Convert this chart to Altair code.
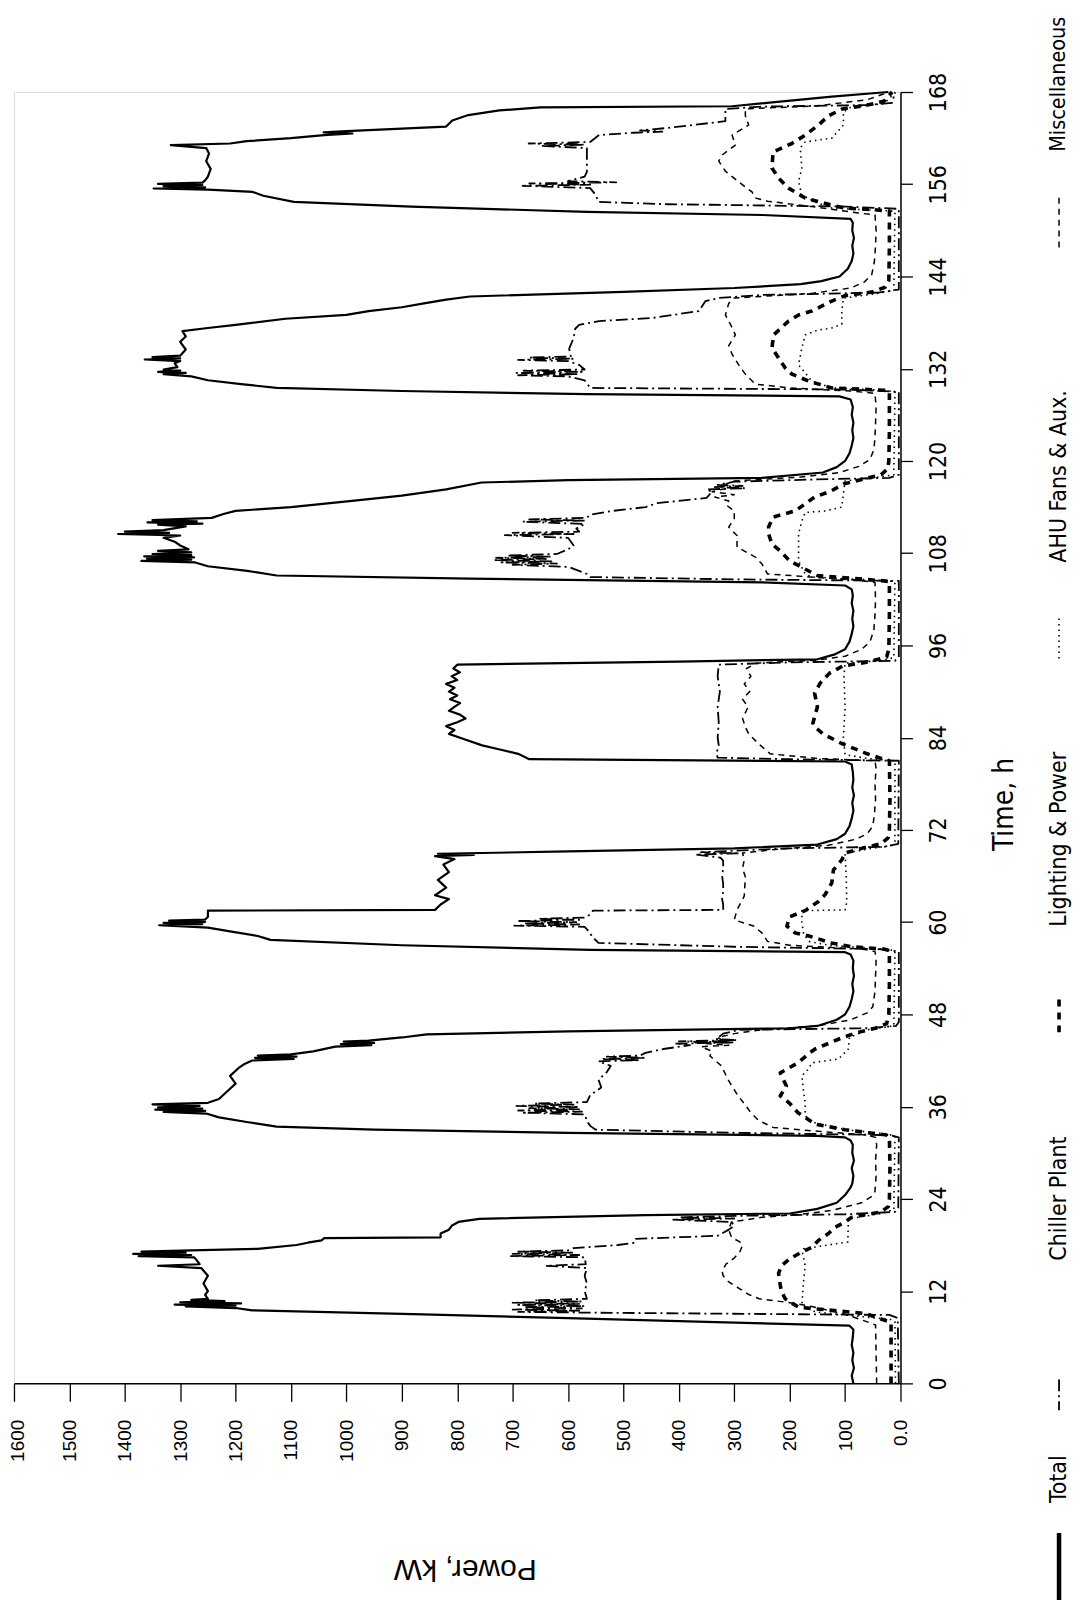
import altair as alt
import pandas as pd

# ---------------- data (time h, power kW) ----------------
TOTAL = [
    (0, 85), (1, 88), (2, 84), (3, 87), (4, 85), (5, 88), (6, 86), (7, 85), (7.5, 92),
    (8.0, 350), (8.5, 600), (9.0, 880), (9.5, 1170), (9.8, 1200), (10.0, 1290), (10.1, 1200),
    (10.25, 1310), (10.4, 1190), (10.55, 1300), (10.7, 1220), (10.85, 1280), (11.0, 1250),
    (11.5, 1255), (12, 1250), (13, 1258), (14, 1250), (15, 1262), (15.3, 1340), (15.5, 1265),
    (16, 1270), (16.4, 1275), (16.55, 1375), (16.7, 1280), (16.85, 1385), (17.0, 1290),
    (17.15, 1370), (17.3, 1280), (17.5, 1160), (18, 1090), (18.3, 1070), (18.6, 1045),
    (18.9, 1040), (19.0, 830), (19.5, 830), (20, 815), (20.5, 810), (21.0, 798), (21.4, 760),
    (21.9, 460), (22.1, 200), (22.7, 150), (23.5, 115), (24.5, 100), (25.5, 90), (26, 87),
    (27, 85), (28, 88), (29, 84), (30, 87), (31, 86), (31.6, 90), (32.0, 100),
    (32.2, 150), (32.6, 600), (33.0, 950), (33.4, 1126), (34, 1180), (34.6, 1230), (35.1, 1253),
    (35.3, 1330), (35.45, 1255), (35.6, 1345), (35.75, 1260), (35.9, 1340), (36.1, 1265),
    (36.3, 1350), (36.5, 1250), (37, 1230), (38, 1215), (39, 1200), (40, 1210), (41, 1195),
    (41.5, 1185), (42, 1170), (42.2, 1095), (42.35, 1165), (42.5, 1090), (42.65, 1160),
    (42.8, 1100), (43.2, 1060), (43.8, 1020), (44.0, 955), (44.15, 1010), (44.3, 950),
    (44.45, 1005), (44.6, 960), (45.0, 900), (45.4, 855), (45.8, 600), (46.2, 200), (46.5, 150),
    (47.3, 115), (48, 100), (49, 92), (50, 88), (51, 85), (52, 87), (53, 84), (54, 86),
    (55, 85), (55.8, 90), (56.1, 100),
    (56.4, 560), (57.0, 900), (57.7, 1137), (58.2, 1160), (58.8, 1210), (59.3, 1250),
    (59.6, 1338), (59.75, 1260), (59.9, 1330), (60.05, 1255), (60.2, 1320), (60.35, 1255),
    (60.7, 1250), (61.5, 1250), (61.6, 840), (62.3, 830), (63, 815), (63.5, 840), (64.5, 820),
    (65.5, 835), (66.5, 815), (67.5, 825), (68.2, 805), (68.6, 840), (68.75, 770), (68.9, 835),
    (69.2, 600), (69.6, 300), (70.1, 150), (70.8, 115), (71.5, 100), (72.5, 92), (73.5, 88),
    (74.5, 85), (75.5, 87), (76.5, 84), (77.5, 87), (78.5, 85), (79.5, 86), (80.5, 88),
    (80.9, 100),
    (81.2, 670), (81.9, 690), (82.5, 725), (83, 755), (84, 795), (84.5, 815), (85, 805),
    (85.5, 820), (86, 800), (86.5, 785), (87, 795), (87.5, 815), (88, 805), (88.5, 795),
    (89, 813), (89.5, 800), (90, 815), (90.5, 805), (91, 820), (91.5, 800), (92, 810),
    (92.5, 795), (93, 807), (93.5, 800), (93.9, 400), (94.2, 150), (94.8, 120), (95.5, 100),
    (96.5, 92), (97.5, 88), (98.5, 85), (99.5, 87), (100.5, 85), (101.5, 88), (102.5, 86),
    (103.3, 88), (103.8, 100),
    (104.2, 249), (104.7, 777), (105.1, 1126), (105.7, 1179), (106.3, 1250), (106.8, 1273),
    (107.0, 1370), (107.15, 1280), (107.3, 1360), (107.45, 1275), (107.6, 1365), (107.75, 1280),
    (107.9, 1350), (108.1, 1280), (108.3, 1340), (108.5, 1285), (109, 1300), (109.5, 1310),
    (110.0, 1330), (110.3, 1300), (110.5, 1412), (110.65, 1320), (110.8, 1400), (111.0, 1330),
    (111.5, 1290), (111.7, 1340), (111.85, 1260), (112.0, 1359), (112.15, 1270), (112.3, 1350),
    (112.6, 1243), (113.1, 1222), (113.5, 1200), (114.0, 1100), (114.8, 990), (115.5, 900),
    (116.3, 820), (117.2, 756), (117.5, 600), (117.8, 250), (118.5, 140), (119.2, 115),
    (120, 100), (121, 92), (122, 88), (123, 85), (124, 87), (125, 85), (126, 88), (127, 86),
    (128, 90), (128.4, 110),
    (128.7, 566), (129.1, 900), (129.5, 1126), (130, 1190), (130.5, 1250), (131, 1280),
    (131.3, 1330), (131.45, 1290), (131.6, 1340), (131.75, 1300), (131.9, 1330), (132.2, 1305),
    (132.7, 1310), (133.0, 1300), (133.2, 1364), (133.35, 1300), (133.5, 1350), (133.7, 1300),
    (134.5, 1290), (135.5, 1300), (136.2, 1290), (136.9, 1296), (137.3, 1250), (137.7, 1200),
    (138.5, 1110), (139.0, 1000), (139.5, 960), (140.0, 900), (140.5, 860), (141.0, 820),
    (141.4, 777), (142.0, 500), (142.5, 300), (143.0, 180), (143.4, 143), (144, 110),
    (145, 95), (146, 88), (147, 85), (148, 87), (149, 84), (150, 87), (151, 86), (151.5, 90),
    (152.0, 249), (152.4, 566), (153.1, 883), (153.7, 1095), (154.5, 1150), (155.0, 1169),
    (155.3, 1250), (155.45, 1348), (155.6, 1255), (155.75, 1330), (155.9, 1260), (156.05, 1340),
    (156.2, 1260), (156.5, 1255), (157, 1250), (158, 1245), (159, 1253), (160, 1248),
    (160.7, 1253), (161.1, 1317), (161.3, 1210), (161.6, 1180), (162.0, 1100), (162.4, 1040),
    (162.6, 989), (162.75, 1041), (162.9, 1000), (163.5, 820), (164.3, 809), (165.0, 780),
    (165.6, 724), (166.0, 650), (166.15, 304), (167.4, 124), (168, 22),
]

CHILLER = [
    (0, 3), (8.5, 5), (8.9, 20), (9.2, 560), (9.3, 690), (9.45, 580), (9.6, 700), (9.75, 575),
    (9.9, 680), (10.05, 570), (10.2, 690), (10.35, 580), (10.5, 700), (10.65, 575), (10.8, 660),
    (11.0, 566), (12, 570), (13, 566), (14, 570), (15, 566), (15.3, 640), (15.5, 568),
    (16.4, 570), (16.55, 703), (16.7, 580), (16.85, 700), (17.0, 590), (17.15, 690), (17.3, 600),
    (17.6, 590), (18.0, 510), (18.3, 480), (18.8, 478), (19.2, 330), (20, 310), (20.5, 300),
    (21.0, 305), (21.3, 412), (21.45, 300), (21.6, 400), (21.8, 290), (22.0, 100), (22.3, 10),
    (22.8, 4), (32.0, 3),
    (32.3, 20), (32.6, 300), (33.0, 550), (33.5, 560), (34, 565), (35, 570), (35.2, 680),
    (35.35, 575), (35.5, 690), (35.65, 580), (35.8, 670), (35.95, 580), (36.1, 693), (36.25, 590),
    (36.4, 660), (36.6, 566), (37.5, 560), (38.5, 540), (39.5, 545), (40.5, 530), (41.3, 523),
    (41.9, 545), (42.05, 470), (42.2, 540), (42.35, 460), (42.5, 530), (42.65, 470), (43.0, 460),
    (43.5, 428), (44.0, 380), (44.2, 407), (44.35, 300), (44.5, 400), (44.65, 295), (44.8, 333),
    (45.5, 320), (46.0, 290), (46.2, 60), (46.5, 8), (47, 3), (56.2, 3),
    (56.5, 40), (56.8, 300), (57.3, 545), (58, 555), (59, 565), (59.4, 570), (59.55, 697),
    (59.7, 580), (59.85, 680), (60.0, 585), (60.15, 690), (60.3, 580), (60.45, 650), (60.6, 570),
    (61.0, 560), (61.5, 555), (61.6, 320), (62.3, 320), (63, 322), (64, 320), (65, 320),
    (66, 322), (67, 320), (68, 320), (68.4, 325), (68.8, 370), (68.95, 290), (69.1, 360),
    (69.3, 300), (69.6, 200), (69.8, 30), (70.2, 4), (81.0, 3),
    (81.2, 200), (81.4, 330), (82, 332), (83, 328), (84, 330), (86, 328), (88, 330), (90, 326),
    (92, 330), (93.5, 328), (93.8, 200), (94.0, 10), (94.5, 3), (104.4, 3),
    (104.6, 300), (104.9, 560), (105.3, 566), (106.2, 598), (106.5, 700), (106.65, 620),
    (106.8, 720), (106.95, 630), (107.1, 735), (107.25, 640), (107.4, 730), (107.55, 630),
    (107.7, 710), (107.9, 620), (108.5, 600), (109, 590), (110, 600), (110.35, 714), (110.5, 590),
    (110.65, 700), (110.8, 580), (111.2, 585), (111.8, 570), (112.1, 682), (112.25, 570),
    (112.4, 670), (112.6, 566), (113.0, 560), (113.5, 520), (114.0, 460), (114.5, 440),
    (115.2, 350), (116, 340), (116.3, 350), (116.45, 280), (116.6, 335), (116.75, 285),
    (116.9, 330), (117.3, 300), (117.6, 150), (117.8, 20), (118.2, 3), (129.0, 3),
    (129.3, 100), (129.5, 560), (130.5, 570), (131, 600), (131.15, 690), (131.3, 580),
    (131.45, 693), (131.6, 575), (131.75, 680), (131.9, 570), (132.5, 580), (133.0, 600),
    (133.15, 690), (133.3, 590), (133.45, 670), (133.6, 595), (134.6, 598), (136, 590),
    (137.2, 587), (137.7, 580), (138.2, 544), (138.6, 448), (139.5, 364), (140.8, 352),
    (141.2, 328), (141.6, 250), (141.9, 40), (142.3, 3), (152.8, 3),
    (153.1, 100), (153.4, 420), (153.7, 545), (154.6, 550), (155.5, 560), (155.8, 682),
    (155.95, 560), (156.1, 670), (156.25, 513), (156.4, 600), (157, 570), (157.6, 566),
    (159, 566), (160.7, 566), (161.0, 650), (161.15, 570), (161.3, 671), (161.5, 560),
    (162.4, 544), (162.7, 481), (162.85, 430), (163.0, 470), (163.3, 424), (164.2, 316),
    (165, 316), (165.8, 316), (166.1, 250), (166.3, 60), (166.6, 15), (168, 10),
]

LIGHTING = [
    (0, 17), (7.8, 17), (8.0, 20), (9.1, 64), (9.5, 124), (9.9, 184), (11.0, 208), (12, 215),
    (13.2, 218), (14.3, 220), (15.3, 215), (16.2, 200), (17.1, 178), (17.7, 160), (18.6, 148),
    (19.5, 130), (20.3, 118), (21.0, 100), (21.6, 88), (22.3, 35), (23, 22), (24, 20),
    (28, 19), (32.0, 20),
    (32.3, 25), (33.0, 100), (33.7, 153), (35.2, 185), (36.5, 201), (37.4, 217), (38.7, 206),
    (40.4, 217), (41.7, 185), (43.0, 164), (43.5, 154), (44.8, 111), (45.6, 80), (46.2, 45),
    (46.8, 25), (48, 21), (52, 20), (56.3, 20),
    (56.5, 30), (56.8, 88), (57.3, 125), (58.2, 165), (58.6, 190), (59.5, 205), (60.7, 200),
    (61.5, 172), (62.7, 148), (63.6, 136), (65.1, 124), (66.8, 121), (68.1, 106), (69.0, 100),
    (69.6, 70), (70.2, 35), (71, 22), (72, 20), (76, 19), (81, 20),
    (81.2, 30), (81.9, 60), (83.2, 105), (84.5, 140), (85.4, 155), (85.9, 158), (88.0, 150),
    (89.8, 155), (91.1, 145), (92.4, 128), (93.3, 105), (93.9, 55), (94.5, 25), (95.5, 21),
    (100, 20), (104.3, 20),
    (104.4, 30), (104.8, 100), (105.1, 150), (107.0, 200), (108.3, 217), (109.2, 232),
    (110.5, 238), (111.4, 238), (112.7, 230), (113.5, 190), (115.3, 155), (116.1, 125),
    (117.0, 103), (117.6, 70), (118.2, 35), (119, 23), (120, 21), (124, 20), (129, 20),
    (129.2, 30), (129.5, 124), (130.4, 166), (131.3, 196), (132.1, 208), (133.4, 220),
    (134.7, 232), (136.4, 229), (138.2, 202), (139.0, 184), (139.5, 160), (140.8, 124),
    (141.5, 100), (142.0, 50), (142.6, 28), (143.5, 21), (148, 20), (152.5, 20),
    (152.7, 50), (152.9, 100), (153.3, 125), (154.2, 172), (155.5, 202), (156.8, 220),
    (158.1, 232), (160.2, 230), (161.3, 196), (162.4, 172), (163.7, 148), (164.9, 130),
    (165.8, 105), (166.3, 60), (166.8, 30), (168, 15),
]

AHU = [
    (0, 9), (8.0, 10), (8.3, 17), (9.3, 154), (10.2, 178), (13.2, 175), (15.3, 172), (17.1, 177),
    (17.5, 175), (18.4, 95), (21.4, 94), (22.1, 35), (22.6, 12), (32.2, 10),
    (32.5, 30), (33.0, 100), (34.0, 160), (34.8, 172), (36.5, 172), (38.0, 175), (40.0, 178),
    (40.9, 166), (41.7, 160), (42.2, 112), (43.5, 94), (45.0, 92), (46.0, 60), (46.5, 12),
    (56.3, 10),
    (56.5, 30), (57.0, 130), (57.5, 165), (58.5, 175), (60.0, 178), (61.5, 178), (61.6, 100),
    (62.6, 97), (66, 98), (69.0, 100), (69.5, 60), (70.0, 15), (70.5, 10), (81, 10),
    (81.3, 60), (81.8, 100), (84, 103), (88, 100), (92, 102), (93.7, 100), (94.0, 40),
    (94.4, 12), (104.2, 10),
    (104.4, 20), (104.9, 160), (105.3, 172), (107.0, 184), (110.5, 184), (112.2, 178),
    (113.3, 172), (113.5, 136), (114.0, 106), (117.4, 100), (117.8, 50), (118.2, 12), (129, 10),
    (129.2, 30), (129.5, 124), (130.4, 160), (132.5, 184), (134.7, 178), (136.4, 172),
    (137.0, 150), (137.3, 124), (137.8, 106), (139.5, 106), (141.2, 103), (141.7, 50),
    (142.2, 12), (152.5, 10),
    (152.6, 40), (152.9, 124), (153.7, 154), (154.6, 178), (156.3, 184), (158.1, 178),
    (160.7, 181), (161.5, 172), (162.0, 124), (163.7, 103), (165.4, 103), (166.0, 90),
    (166.5, 30), (168, 8),
]

MISC = [
    (0, 43), (7.6, 45), (8.0, 60), (9.0, 100), (10.0, 160), (10.5, 200), (11.0, 255), (11.6, 275),
    (12.3, 290), (13.2, 310), (14.0, 320), (14.6, 322), (15.5, 315), (16.3, 300), (17.1, 290),
    (18.0, 285), (18.4, 290), (19.0, 305), (20.0, 310), (21.0, 305), (21.6, 250), (22.0, 180),
    (22.5, 124), (23.5, 70), (24.4, 50), (25, 46), (27, 44), (29, 45), (31, 43), (32.0, 45),
    (32.3, 60), (32.8, 150), (33.3, 230), (34.2, 256), (35.2, 270), (36.2, 280), (37.3, 292),
    (38.3, 301), (39.6, 312), (41.3, 323), (42.6, 344), (43.2, 340), (43.8, 360), (44.0, 310),
    (44.3, 370), (44.6, 320), (45.0, 330), (45.5, 300), (46.0, 250), (46.5, 150), (47.3, 90),
    (48.2, 60), (49, 50), (51, 46), (53, 45), (55, 44), (56.2, 46),
    (56.5, 70), (57.0, 200), (57.5, 240), (58.6, 250), (59.5, 265), (60.3, 300), (61.6, 295),
    (63.4, 282), (65.9, 280), (67, 285), (68.1, 282), (69, 285), (69.5, 220), (70.0, 130),
    (70.8, 80), (71.5, 60), (72.5, 50), (74, 47), (76, 45), (78, 46), (80, 44), (81.0, 46),
    (81.3, 150), (81.9, 235), (83.2, 256), (84.5, 274), (85.4, 280), (86.5, 285), (88, 275),
    (89, 285), (90, 272), (91, 282), (92, 270), (93, 278), (93.7, 260), (94.1, 150),
    (94.6, 100), (95.5, 70), (96.5, 55), (98, 48), (100, 46), (102, 45), (104.2, 46),
    (104.5, 80), (105.3, 240), (106.6, 250), (107.5, 262), (108.8, 295), (110.3, 295),
    (111.4, 310), (112.5, 300), (113.5, 300), (114.3, 315), (114.8, 310), (115.3, 335),
    (115.6, 300), (116.0, 340), (116.5, 310), (117.0, 315), (117.4, 300), (117.9, 180),
    (118.5, 110), (119.3, 75), (120.2, 55), (121.5, 48), (123, 46), (125, 45), (127, 44),
    (128.8, 46),
    (129.1, 90), (129.5, 200), (130.0, 262), (131.3, 280), (132.5, 292), (133.9, 304),
    (135, 310), (136.4, 298), (137.5, 305), (139.0, 316), (140.5, 310), (141.2, 300),
    (141.8, 160), (142.5, 90), (143.3, 65), (144.2, 52), (146, 47), (148, 45), (150, 44),
    (152.0, 46),
    (152.3, 80), (153.0, 150), (153.8, 240), (154.2, 262), (155.0, 268), (156.3, 292),
    (157.7, 316), (159.0, 328), (159.8, 322), (161.1, 298), (162.4, 304), (163.7, 274),
    (164.9, 280), (165.8, 280), (166.2, 150), (167.0, 60), (168, 20),
]

POWER_TICKS = list(range(0, 1601, 100))
TIME_TICKS = list(range(0, 169, 12))
LEGEND_LABELS = ["Total", "Chiller Plant", "Lighting & Power", "AHU Fans & Aux.", "Miscellaneous"]

# ---------------- layout ----------------
W, H = 889, 1295
NARROW = "Liberation Sans Narrow, Arial Narrow, DejaVu Sans Condensed, sans-serif"
WIDE = "Liberation Sans, Arial, Helvetica, sans-serif"

x_enc = alt.X(
    "p:Q",
    scale=alt.Scale(domain=[0, 1600], reverse=True, nice=False, zero=True),
    axis=alt.Axis(
        orient="bottom", values=POWER_TICKS, grid=False,
        labelAngle=270, labelAlign="right", labelBaseline="middle",
        labelFont=WIDE, labelFontSize=19, labelColor="black", labelPadding=18,
        labelExpr="datum.value == 0 ? '0.0' : '' + datum.value",
        labelOffset={"condition": {"test": "datum.value == 1600", "value": 4}, "value": 0},
        tickSize=18, tickColor="black", tickWidth=1.3,
        domainColor="black", domainWidth=1.5,
        title="Power, kW", titleAngle=180, titleFont=WIDE, titleFontSize=30,
        titleFontWeight="normal", titleColor="black", titleAlign="center",
        titleBaseline="middle", titleX=452, titleY=186,
    ),
)
y_enc = alt.Y(
    "t:Q",
    scale=alt.Scale(domain=[0, 168], nice=False, zero=True),
    axis=alt.Axis(
        orient="right", values=TIME_TICKS, grid=False,
        labelAngle=270, labelAlign="center", labelBaseline="top",
        labelFont=NARROW, labelFontSize=23, labelColor="black", labelPadding=15,
        tickSize=12, tickColor="black", tickWidth=1.3,
        domainColor="black", domainWidth=1.5,
        title="Time, h", titleAngle=270, titleFont=NARROW, titleFontSize=28,
        titleFontWeight="normal", titleColor="black", titleAlign="center",
        titleBaseline="middle", titleX=104, titleY=714,
    ),
)

def frame(rows):
    return pd.DataFrame(rows, columns=["t", "p"])

styles = [
    (TOTAL, dict(strokeWidth=2.2)),
    (CHILLER, dict(strokeWidth=1.8, strokeDash=[12, 4, 2, 4])),
    (LIGHTING, dict(strokeWidth=3.6, strokeDash=[7, 6])),
    (AHU, dict(strokeWidth=1.6, strokeDash=[1.5, 4])),
    (MISC, dict(strokeWidth=1.5, strokeDash=[6, 5])),
]

layers = []
for rows, st in styles:
    layers.append(
        alt.Chart(frame(rows)).mark_line(color="black", strokeJoin="round", **st).encode(
            x=x_enc, y=y_enc, order=alt.Order("t:Q")
        )
    )

# ---------------- rotated legend (right edge, reading bottom-to-top) ----------------
LX = 1048  # x of legend column, relative to plot origin
legend_samples = [
    (1445, 1515, dict(strokeWidth=4.5)),
    (1291, 1322, dict(strokeWidth=1.8, strokeDash=[12, 4, 2, 4])),
    (910, 946, dict(strokeWidth=3.6, strokeDash=[7, 6])),
    (528, 570, dict(strokeWidth=1.6, strokeDash=[1.5, 4])),
    (106, 157, dict(strokeWidth=1.5, strokeDash=[6, 5])),
]
legend_text = [(1415, 23), (1172, 23), (837, 23), (472, 23), (60, 21.5)]
one = alt.Data(values=[{"k": 1}])
for (y1, y2, st), lab, (yb, fs) in zip(legend_samples, LEGEND_LABELS, legend_text):
    layers.append(
        alt.Chart(one).mark_rule(color="black", strokeCap="butt", **st).encode(
            x=alt.value(LX), y=alt.value(y1), y2=alt.value(y2)
        )
    )
    layers.append(
        alt.Chart(one).mark_text(
            text=lab, angle=270, align="left", baseline="middle",
            font=NARROW, fontSize=fs, color="black",
        ).encode(x=alt.value(LX), y=alt.value(yb))
    )

chart = (
    alt.layer(*layers)
    .properties(
        width=W, height=H,
        padding={"left": 6, "top": 82, "right": 172, "bottom": 215},
        autosize=alt.AutoSizeParams(type="none"),
    )
    .configure_view(stroke="black", strokeWidth=1.5)
    .configure(background="white")
)

chart.save("out.html", embed_options={"renderer": "svg", "actions": False})
